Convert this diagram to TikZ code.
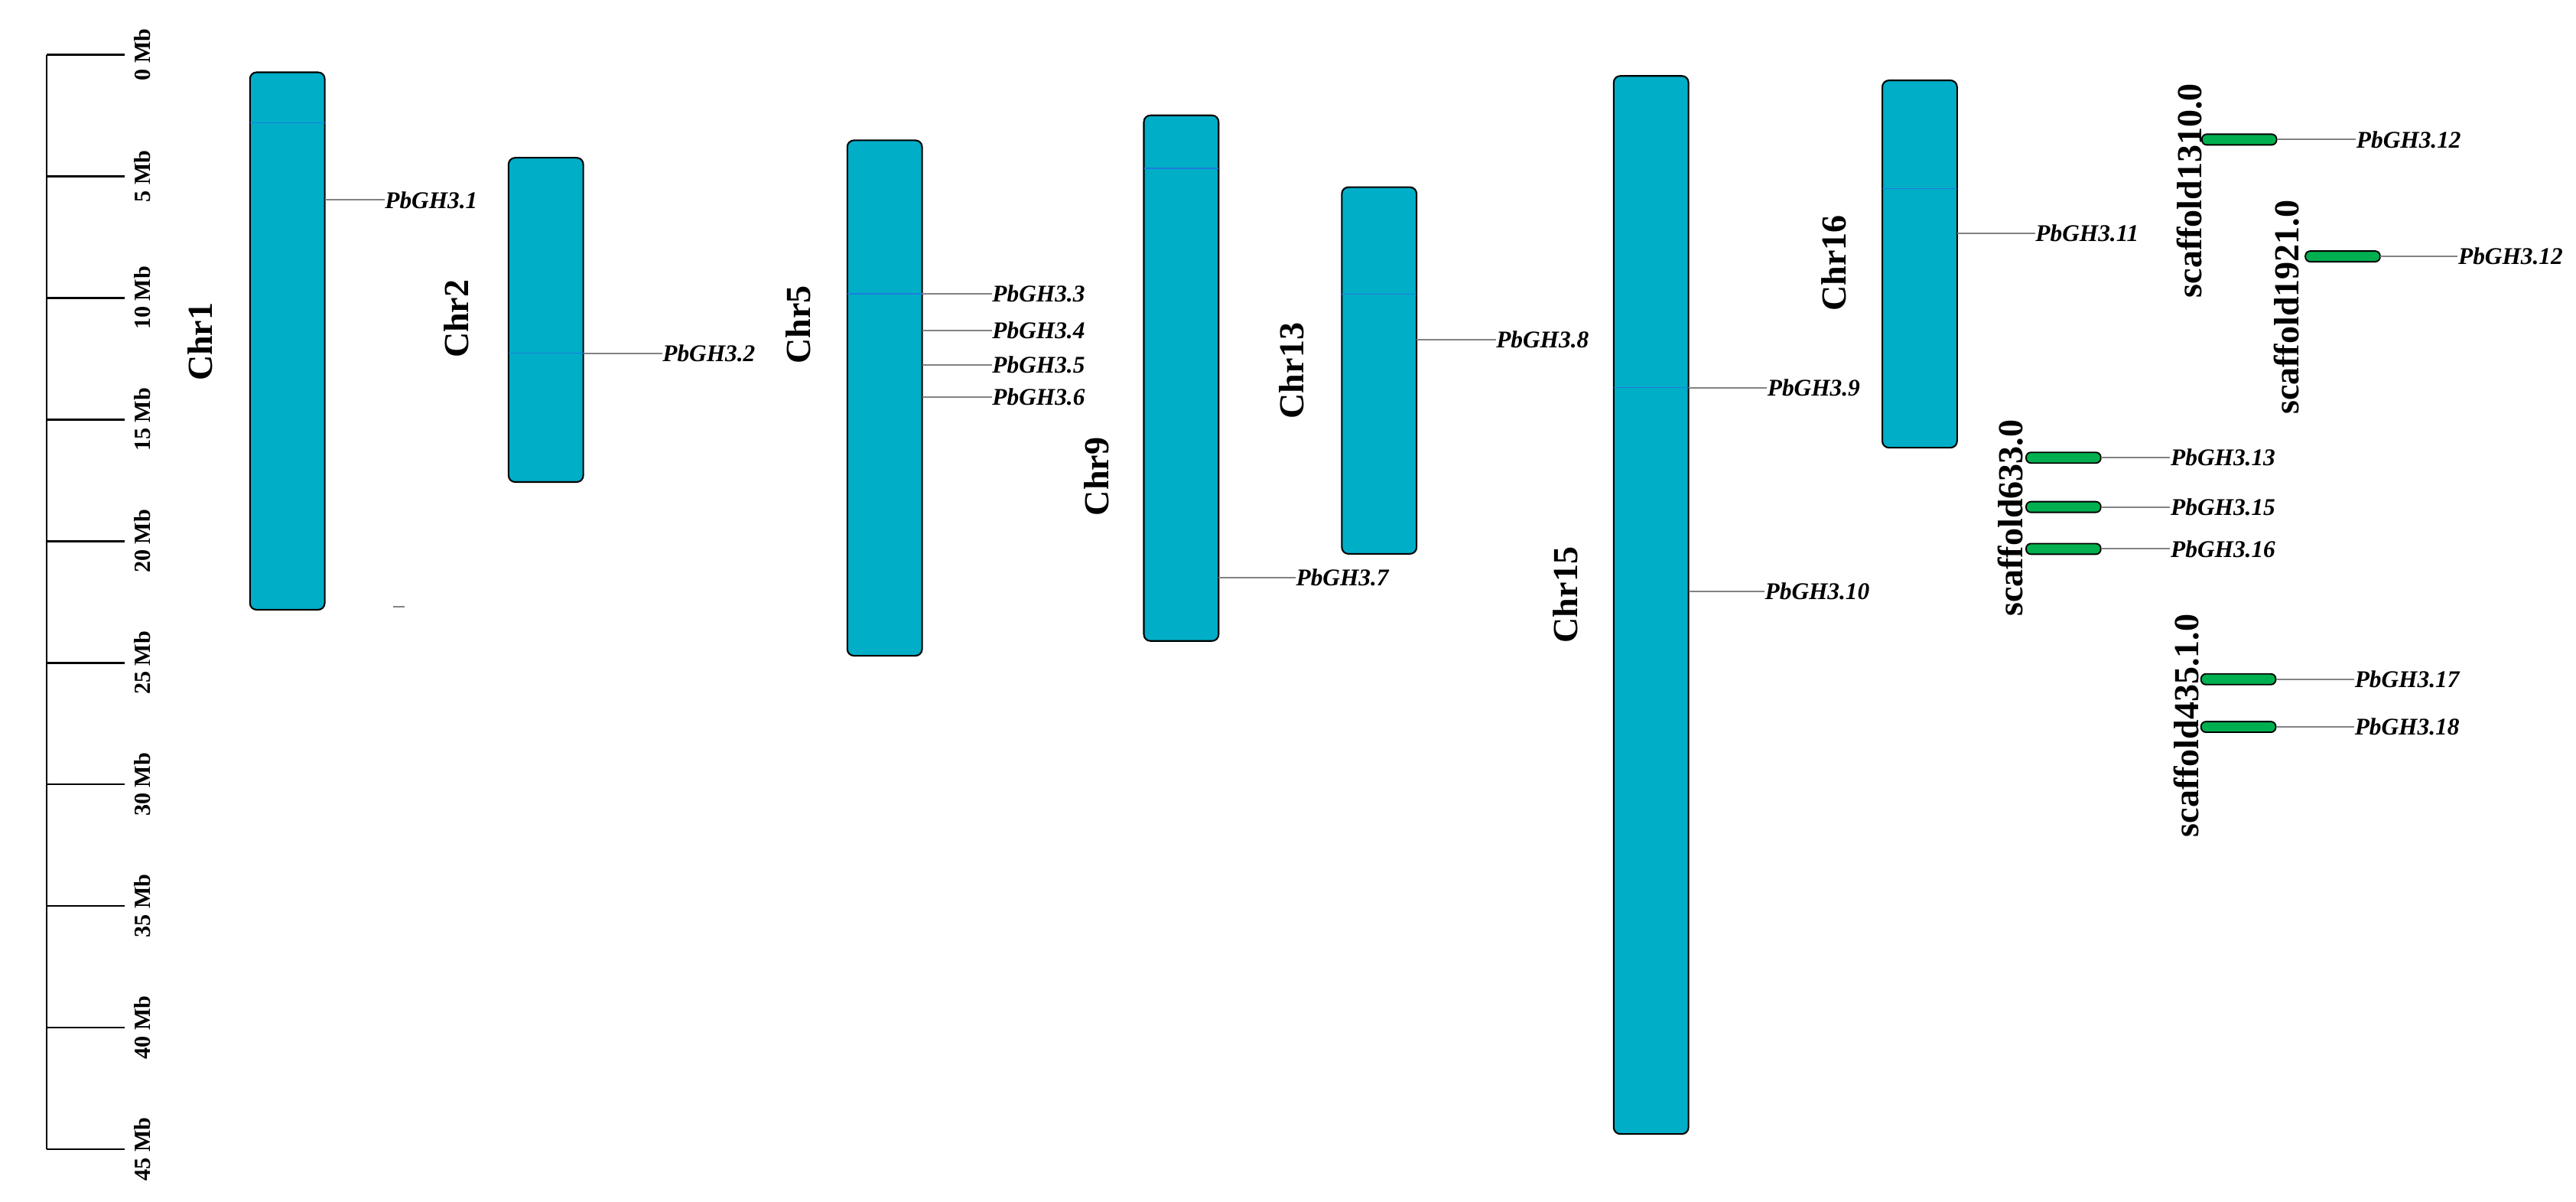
\documentclass[tikz,border=0pt]{standalone}
\usepackage{fontspec}
\setmainfont{Liberation Serif}
\definecolor{chrfill}{RGB}{0,174,199}
\definecolor{bandblue}{RGB}{30,125,220}
\definecolor{pillgreen}{RGB}{0,176,80}
\definecolor{linegray}{RGB}{130,130,130}
\begin{document}
\begin{tikzpicture}[x=0.2mm,y=-0.2mm,
  chrom/.style={draw=black, line width=0.55pt, fill=chrfill, rounded corners=0.8mm, minimum width=9.1mm, inner sep=0, outer sep=0},
  pill/.style={draw=black, line width=0.5pt, fill=pillgreen, rounded corners=0.6mm, minimum width=9.1mm, minimum height=1.3mm, inner sep=0, outer sep=0},
  chrlabel/.style={font=\fontsize{12.2}{13}\selectfont\bfseries, rotate=90, inner sep=0},
  genelabel/.style={font=\fontsize{8.3}{9}\selectfont\bfseries\itshape, anchor=west, inner sep=0},
  ticklabel/.style={font=\fontsize{8}{9}\selectfont\bfseries, rotate=90, inner sep=0},
  geneline/.style={draw=linegray, line width=0.5pt},
  bandline/.style={draw=bandblue, line width=0.3pt},
  axisline/.style={line width=0.65pt}
]
\useasboundingbox (0,0) rectangle (1568,731);

% scale axis
\coordinate (ax0) at (28.4,33.3);
\coordinate (ax45) at (28.4,699.3);
\draw[axisline] (ax0) -- (ax45);
\foreach \k [evaluate=\k as \mb using int(5*\k)] in {0,...,9} {
  \coordinate (tk\k) at (28.4,{33.3+74*\k});
  \coordinate (te\k) at (76,{33.3+74*\k});
  \draw[axisline] (tk\k) -- (te\k);
  \node[ticklabel] (tl\k) at (86.6,{33.3+74*\k}) {\mb\ Mb};
}

% chromosomes
\node[chrom, minimum height=65.4mm] (chr1) at (174.9,207.5) {};
\node[chrom, minimum height=39.46mm] (chr2) at (332.3,194.65) {};
\node[chrom, minimum height=62.72mm] (chr5) at (538.5,242.2) {};
\node[chrom, minimum height=63.96mm] (chr9) at (719,230.1) {};
\node[chrom, minimum height=44.62mm] (chr13) at (839.5,225.45) {};
\node[chrom, minimum height=128.76mm] (chr15) at (1005,368.1) {};
\node[chrom, minimum height=44.7mm] (chr16) at (1168.5,160.65) {};

% bands inside chromosomes
\draw[bandline] (chr1.west |- 0,74.7) -- (chr1.east |- 0,74.7);
\draw[bandline] (chr2.west |- 0,215) -- (chr2.east |- 0,215);
\draw[bandline] (chr5.west |- 0,178.8) -- (chr5.east |- 0,178.8);
\draw[bandline] (chr9.west |- 0,102.4) -- (chr9.east |- 0,102.4);
\draw[bandline] (chr13.west |- 0,179) -- (chr13.east |- 0,179);
\draw[bandline] (chr15.west |- 0,236) -- (chr15.east |- 0,236);
\draw[bandline] (chr16.west |- 0,114.6) -- (chr16.east |- 0,114.6);

% chromosome labels
\node[chrlabel] (lchr1) at (122,208) {Chr1};
\node[chrlabel] (lchr2) at (278,194) {Chr2};
\node[chrlabel] (lchr5) at (486,197.5) {Chr5};
\node[chrlabel] (lchr9) at (667.7,290) {Chr9};
\node[chrlabel] (lchr13) at (786,225.6) {Chr13};
\node[chrlabel] (lchr15) at (953,362) {Chr15};
\node[chrlabel] (lchr16) at (1116.5,160) {Chr16};

% scaffolds
\node[pill] (s1310) at (1363,84.9) {};
\node[pill] (s1921) at (1426,156) {};
\node[pill] (s633a) at (1256,278.5) {};
\node[pill] (s633b) at (1256,308.5) {};
\node[pill] (s633c) at (1256,334) {};
\node[pill] (s435a) at (1362.5,413.3) {};
\node[pill] (s435b) at (1362.5,442.3) {};

\node[chrlabel] (ls1310) at (1332.5,116) {scaffold1310.0};
\node[chrlabel] (ls1921) at (1392,187) {scaffold1921.0};
\node[chrlabel] (ls633) at (1223.7,315.3) {scaffold633.0};
\node[chrlabel] (ls435) at (1330.8,441.5) {scaffold435.1.0};

% gene labels
\node[genelabel] (g1) at (234,121.7) {PbGH3.1};
\node[genelabel] (g2) at (403,215) {PbGH3.2};
\node[genelabel] (g3) at (603.7,178.8) {PbGH3.3};
\node[genelabel] (g4) at (603.7,201) {PbGH3.4};
\node[genelabel] (g5) at (603.7,222) {PbGH3.5};
\node[genelabel] (g6) at (603.7,241.6) {PbGH3.6};
\node[genelabel] (g7) at (788.6,351.5) {PbGH3.7};
\node[genelabel] (g8) at (910.4,206.6) {PbGH3.8};
\node[genelabel] (g9) at (1075.5,236) {PbGH3.9};
\node[genelabel] (g10) at (1074,360) {PbGH3.10};
\node[genelabel] (g11) at (1238.7,141.8) {PbGH3.11};
\node[genelabel] (g12a) at (1434,84.9) {PbGH3.12};
\node[genelabel] (g12b) at (1496,156) {PbGH3.12};
\node[genelabel] (g13) at (1321,278.5) {PbGH3.13};
\node[genelabel] (g15) at (1321,308.5) {PbGH3.15};
\node[genelabel] (g16) at (1321,334) {PbGH3.16};
\node[genelabel] (g17) at (1433,413.3) {PbGH3.17};
\node[genelabel] (g18) at (1433,442.3) {PbGH3.18};

% gene connector start points on chromosomes
\coordinate (c1) at (chr1.east |- g1.west);
\coordinate (c2) at (chr2.east |- g2.west);
\coordinate (c3) at (chr5.east |- g3.west);
\coordinate (c4) at (chr5.east |- g4.west);
\coordinate (c5) at (chr5.east |- g5.west);
\coordinate (c6) at (chr5.east |- g6.west);
\coordinate (c7) at (chr9.east |- g7.west);
\coordinate (c8) at (chr13.east |- g8.west);
\coordinate (c9) at (chr15.east |- g9.west);
\coordinate (c10) at (chr15.east |- g10.west);
\coordinate (c11) at (chr16.east |- g11.west);

\draw[geneline] (c1) -- (g1.west);
\draw[geneline] (c2) -- (g2.west);
\draw[geneline] (c3) -- (g3.west);
\draw[geneline] (c4) -- (g4.west);
\draw[geneline] (c5) -- (g5.west);
\draw[geneline] (c6) -- (g6.west);
\draw[geneline] (c7) -- (g7.west);
\draw[geneline] (c8) -- (g8.west);
\draw[geneline] (c9) -- (g9.west);
\draw[geneline] (c10) -- (g10.west);
\draw[geneline] (c11) -- (g11.west);
\draw[geneline] (s1310.east) -- (g12a.west);
\draw[geneline] (s1921.east) -- (g12b.west);
\draw[geneline] (s633a.east) -- (g13.west);
\draw[geneline] (s633b.east) -- (g15.west);
\draw[geneline] (s633c.east) -- (g16.west);
\draw[geneline] (s435a.east) -- (g17.west);
\draw[geneline] (s435b.east) -- (g18.west);

% small stray mark below Chr1
\coordinate (d1) at (239.3,369.2);
\coordinate (d2) at (246.5,369.2);
\draw[geneline] (d1) -- (d2);
\end{tikzpicture}
\end{document}
